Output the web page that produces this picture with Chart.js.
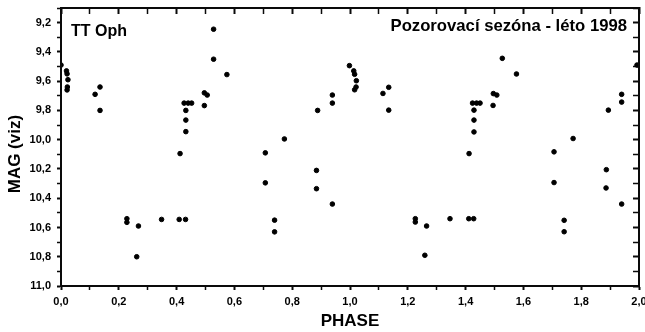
<!DOCTYPE html>
<html>
<head>
<meta charset="utf-8">
<script src="https://cdn.jsdelivr.net/npm/chart.js@4.4.1/dist/chart.umd.min.js"></script>
<style>
  html, body { margin: 0; padding: 0; background: #fff; }
  #chart { display: block; }
</style>
</head>
<body>
<canvas id="chart" width="645" height="332"></canvas>
<script>
// first cycle, phase 0..1
const phaseA = [0.0, 0.019, 0.021, 0.024, 0.022, 0.021, 0.118, 0.135, 0.135, 0.228, 0.228, 0.262, 0.268,
  0.348, 0.409, 0.431, 0.412, 0.426, 0.44, 0.452, 0.432, 0.432, 0.432, 0.496, 0.506, 0.496, 0.528,
  0.528, 0.574, 0.707, 0.707, 0.739, 0.739, 0.773, 0.884, 0.884, 0.888, 0.939, 0.939, 0.939, 0.998];
const magA = [9.49, 9.53, 9.55, 9.59, 9.64, 9.66, 9.69, 9.64, 9.80, 10.54, 10.565, 10.80, 10.59,
  10.545, 10.545, 10.545, 10.095, 9.75, 9.75, 9.75, 9.80, 9.866, 9.945, 9.68, 9.695, 9.767, 9.245,
  9.45, 9.555, 10.09, 10.295, 10.55, 10.63, 9.995, 10.21, 10.335, 9.80, 9.695, 9.75, 10.44, 9.494];

// second cycle, phase 1..2
const phaseB = [1.013, 1.016, 1.022, 1.021, 1.016, 1.114, 1.134, 1.134, 1.226, 1.226, 1.259, 1.265,
  1.346, 1.411, 1.428, 1.412, 1.424, 1.438, 1.45, 1.429, 1.429, 1.429, 1.496, 1.508, 1.495, 1.527,
  1.576, 1.706, 1.706, 1.741, 1.741, 1.772, 1.887, 1.886, 1.894, 1.94, 1.94, 1.94, 1.993];
const magB = [9.53, 9.553, 9.597, 9.64, 9.659, 9.684, 9.642, 9.798, 10.54, 10.563, 10.79, 10.59,
  10.54, 10.54, 10.54, 10.095, 9.75, 9.75, 9.75, 9.798, 9.866, 9.947, 9.685, 9.695, 9.766, 9.444,
  9.551, 10.083, 10.293, 10.551, 10.629, 9.992, 10.205, 10.33, 9.798, 9.69, 9.743, 10.44, 9.49];

const xMin = 0, xMax = 2;
const yMin = 9.1, yMax = 11.0;
const xTicks = [0, 0.2, 0.4, 0.6, 0.8, 1.0, 1.2, 1.4, 1.6, 1.8, 2.0];
const xTickLabels = ["0,0", "0,2", "0,4", "0,6", "0,8", "1,0", "1,2", "1,4", "1,6", "1,8", "2,0"];
const xMinor = [0.1, 0.3, 0.5, 0.7, 0.9, 1.1, 1.3, 1.5, 1.7, 1.9];
const yTicks = [9.2, 9.4, 9.6, 9.8, 10.0, 10.2, 10.4, 10.6, 10.8, 11.0];
const yTickLabels = ["9,2", "9,4", "9,6", "9,8", "10,0", "10,2", "10,4", "10,6", "10,8", "11,0"];
const yMinor = [9.1, 9.3, 9.5, 9.7, 9.9, 10.1, 10.3, 10.5, 10.7, 10.9];

const starName = "TT Oph";
const seasonText = "Pozorovací sezóna - léto 1998";

const FONT = "'Liberation Sans', Arial, Helvetica, sans-serif";
const INK = "#0a0a0a";

const toPoints = (xs, ys) => xs.map((v, i) => ({ x: v, y: ys[i] }));
const allX = xTicks.concat(xMinor).sort((a, b) => a - b);
const allY = yTicks.concat(yMinor).sort((a, b) => a - b);

const labelFor = (values, labels) => (value) => {
  const i = values.findIndex((v) => Math.abs(v - value) < 1e-6);
  return i >= 0 ? labels[i] : "";
};
const isMajor = (values) => (c) => values.some((v) => Math.abs(v - c.tick.value) < 1e-6);

// frame (backup) and the two captions inside the plot
const captions = {
  id: "captions",
  afterDraw(chart) {
    const c = chart.ctx;
    const sx = chart.scales.x;
    const sy = chart.scales.y;
    const L = Math.round(sx.getPixelForValue(xMin));
    const R = Math.round(sx.getPixelForValue(xMax));
    const T = Math.round(sy.getPixelForValue(yMin));
    const B = Math.round(sy.getPixelForValue(yMax));
    c.save();
    c.fillStyle = INK;
    c.fillRect(L - 1, T - 1, R - L + 2, 2);
    c.fillRect(L - 1, B - 1, R - L + 2, 2);
    c.fillRect(L - 1, T - 1, 2, B - T + 2);
    c.fillRect(R - 1, T - 1, 2, B - T + 2);
    c.fillStyle = "#000";
    c.textBaseline = "alphabetic";
    c.font = `bold 16px ${FONT}`;
    c.textAlign = "left";
    c.fillText(starName, 71, 36);
    c.font = `bold 16.7px ${FONT}`;
    c.textAlign = "right";
    c.fillText(seasonText, 627, 31);
    c.restore();
  },
};

const frameGrid = (major, len) => ({
  display: true,
  drawOnChartArea: false,
  drawTicks: true,
  tickLength: len,
  tickColor: INK,
  tickWidth: (c) => (isMajor(major)(c) ? 2 : 1.5),
});
const frameBorder = { display: true, color: INK, width: 2 };

const canvas = document.getElementById("chart");
new Chart(canvas, {
  type: "scatter",
  data: {
    datasets: [
      { data: toPoints(phaseA, magA), xAxisID: "x", yAxisID: "y" },
      { data: toPoints(phaseB, magB), xAxisID: "x", yAxisID: "y" },
    ],
  },
  options: {
    responsive: false,
    animation: false,
    layout: { padding: { top: 8, right: 6, left: 0, bottom: 0 } },
    elements: {
      point: { radius: 2.3, backgroundColor: "#000", borderColor: "#000", borderWidth: 1 },
    },
    plugins: { legend: { display: false }, tooltip: { enabled: false } },
    scales: {
      x: {
        type: "linear",
        position: "bottom",
        min: xMin,
        max: xMax,
        afterBuildTicks: (s) => { s.ticks = allX.map((v) => ({ value: v })); },
        afterFit: (s) => { s.height = 46; s.paddingLeft = 0; s.paddingRight = 0; },
        grid: frameGrid(xTicks, 4),
        border: frameBorder,
        ticks: {
          autoSkip: false,
          maxRotation: 0,
          padding: 5,
          color: "#000",
          font: { family: FONT, size: 11, weight: "bold" },
          callback: labelFor(xTicks, xTickLabels),
        },
        title: {
          display: true,
          text: "PHASE",
          color: "#000",
          padding: { top: 0, bottom: 0 },
          font: { family: FONT, size: 17, weight: "bold" },
        },
      },
      xTop: {
        type: "linear",
        position: "top",
        display: true,
        min: xMin,
        max: xMax,
        afterBuildTicks: (s) => { s.ticks = allX.map((v) => ({ value: v })); },
        afterFit: (s) => { s.height = 0; s.paddingLeft = 0; s.paddingRight = 0; },
        grid: frameGrid(xTicks, -6),
        border: frameBorder,
        ticks: { display: false },
      },
      y: {
        type: "linear",
        position: "left",
        reverse: true,
        min: yMin,
        max: yMax,
        afterBuildTicks: (s) => { s.ticks = allY.map((v) => ({ value: v })); },
        afterFit: (s) => { s.width = 61; s.paddingTop = 0; s.paddingBottom = 0; },
        grid: frameGrid(yTicks, 4),
        border: frameBorder,
        ticks: {
          autoSkip: false,
          padding: 6,
          color: "#000",
          font: { family: FONT, size: 11, weight: "bold" },
          callback: labelFor(yTicks, yTickLabels),
        },
        title: {
          display: true,
          text: "MAG (viz)   ",
          color: "#000",
          padding: { top: 5, bottom: 0 },
          font: { family: FONT, size: 17, weight: "bold" },
        },
      },
      yRight: {
        type: "linear",
        position: "right",
        display: true,
        reverse: true,
        min: yMin,
        max: yMax,
        afterBuildTicks: (s) => { s.ticks = allY.map((v) => ({ value: v })); },
        afterFit: (s) => { s.width = 0; s.paddingTop = 0; s.paddingBottom = 0; },
        grid: frameGrid(yTicks, -6),
        border: frameBorder,
        ticks: { display: false },
      },
    },
  },
  plugins: [captions],
});
</script>
</body>
</html>
